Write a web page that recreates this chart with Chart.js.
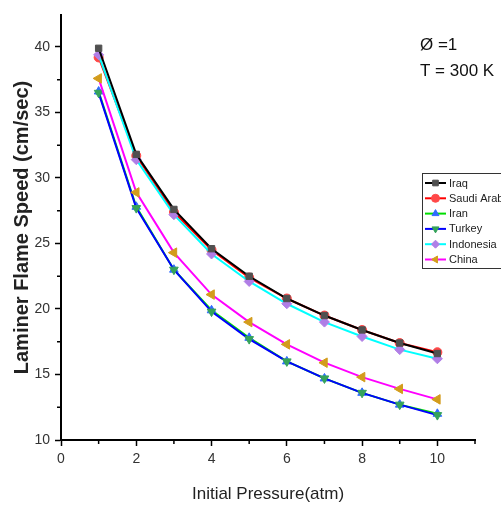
<!DOCTYPE html>
<html>
<head>
<meta charset="utf-8">
<script src="https://cdn.jsdelivr.net/npm/chart.js@4/dist/chart.umd.min.js"></script>
<style>
html, body { margin: 0; padding: 0; background: #fff; overflow: hidden; }
</style>
</head>
<body>
<canvas id="myChart" width="501" height="507"></canvas>
<script>
// initial pressure (atm)
const pressure = [1, 2, 3, 4, 5, 6, 7, 8, 9, 10];

// laminar flame speed (cm/sec)
const iraq      = [39.9, 31.8, 27.6, 24.6, 22.5, 20.8, 19.5, 18.4, 17.4, 16.6];
const saudi     = [39.2, 31.7, 27.4, 24.5, 22.4, 20.8, 19.5, 18.4, 17.4, 16.7];
const iran      = [36.6, 27.8, 23.0, 19.9, 17.8, 16.0, 14.7, 13.6, 12.7, 12.0];
const turkey    = [36.5, 27.7, 23.0, 19.8, 17.7, 16.0, 14.7, 13.6, 12.7, 11.9];
const indonesia = [39.4, 31.4, 27.2, 24.2, 22.1, 20.4, 19.0, 17.9, 16.9, 16.2];
const china     = [37.6, 28.9, 24.3, 21.1, 19.0, 17.3, 15.9, 14.8, 13.9, 13.1];

const xMinor = [1, 3, 5, 7, 9, 11];
const yMinor = [12.5, 17.5, 22.5, 27.5, 32.5, 37.5];

function pts(arr) {
  return arr.map((v, i) => ({x: pressure[i], y: v}));
}

// order: higher gets drawn first (underneath)
const series = [
  {label: 'Iraq',         data: iraq,      line: '#000000', mark: '#505050', style: 'rect',     rot: 0,   r: 4.5, order: 0},
  {label: 'Saudi Arabia', data: saudi,     line: '#ff0000', mark: '#ff4848', style: 'circle',   rot: 0,   r: 4.5, order: 2},
  {label: 'Iran',         data: iran,      line: '#00dd00', mark: '#2f6bff', style: 'triangle', rot: 0,   r: 5,   order: 5},
  {label: 'Turkey',       data: turkey,    line: '#0000ff', mark: '#35a35a', style: 'triangle', rot: 180, r: 5,   order: 4},
  {label: 'Indonesia',    data: indonesia, line: '#00ffff', mark: '#b07ee6', style: 'rectRot',  rot: 0,   r: 5,   order: 1},
  {label: 'China',        data: china,     line: '#ff00ff', mark: '#d39c1c', style: 'triangle', rot: -90, r: 5.5, order: 3}
];

const data = {
  datasets: series.map(s => ({
    label: s.label,
    data: pts(s.data),
    order: s.order,
    borderColor: s.line,
    backgroundColor: s.mark,
    pointBackgroundColor: s.mark,
    pointBorderColor: s.mark,
    pointBorderWidth: 1,
    pointStyle: s.style,
    pointRotation: s.rot,
    pointRadius: s.r,
    borderWidth: 2,
    tension: 0
  }))
};

const minorTicks = {
  id: 'minorTicks',
  afterDraw(chart) {
    const {ctx, scales: {x, y}} = chart;
    ctx.save();
    ctx.strokeStyle = '#000';
    ctx.lineWidth = 1.5;
    ctx.beginPath();
    xMinor.forEach(v => {
      const px = x.getPixelForValue(v);
      ctx.moveTo(px, y.bottom);
      ctx.lineTo(px, y.bottom + 4);
    });
    yMinor.forEach(v => {
      const py = y.getPixelForValue(v);
      ctx.moveTo(x.left - 4, py);
      ctx.lineTo(x.left, py);
    });
    ctx.stroke();
    ctx.restore();
  }
};

const boxLegend = {
  id: 'boxLegend',
  afterDraw(chart) {
    const ctx = chart.ctx;
    const left = 422, top = 173, rowH = 15.3;
    ctx.save();
    ctx.fillStyle = '#fff';
    ctx.fillRect(left, top, 100, 95);
    ctx.strokeStyle = '#333';
    ctx.lineWidth = 1;
    ctx.strokeRect(left + 0.5, top + 0.5, 100, 95);
    ctx.font = '11px "Liberation Sans", Arial, sans-serif';
    ctx.textBaseline = 'middle';
    series.forEach((s, i) => {
      const cy = top + 10 + i * rowH;
      ctx.strokeStyle = s.line;
      ctx.lineWidth = 2;
      ctx.beginPath();
      ctx.moveTo(left + 3, cy);
      ctx.lineTo(left + 24, cy);
      ctx.stroke();
      ctx.fillStyle = s.mark;
      ctx.strokeStyle = s.mark;
      ctx.lineWidth = 1;
      Chart.helpers.drawPoint(ctx, {pointStyle: s.style, rotation: s.rot, radius: 4, borderWidth: 1}, left + 13.5, cy);
      ctx.fillStyle = '#222';
      ctx.fillText(s.label, left + 27, cy + 0.5);
    });
    // conditions
    ctx.fillStyle = '#111';
    ctx.font = '17px "Liberation Sans", Arial, sans-serif';
    ctx.textBaseline = 'middle';
    ctx.fillText('Ø =1', 420, 45);
    ctx.fillText('T = 300 K', 420, 71);
    ctx.restore();
  }
};

const config = {
  type: 'line',
  data: data,
  options: {
    responsive: false,
    animation: false,
    layout: {padding: {top: 15, right: 26, left: 0, bottom: 0}},
    plugins: {
      legend: {display: false},
      tooltip: {enabled: false}
    },
    scales: {
      x: {
        type: 'linear',
        min: 0,
        max: 11,
        afterFit(scale) { scale.height = 67; },
        ticks: {stepSize: 2, includeBounds: false, color: '#333', padding: 5,
                font: {size: 14, family: '"Liberation Sans", Arial, sans-serif'}},
        grid: {drawOnChartArea: false, drawTicks: true, tickLength: 6, tickColor: '#000', tickWidth: 1.5},
        border: {display: true, color: '#000', width: 2},
        title: {display: true, text: 'Initial Pressure(atm)', color: '#222',
                padding: {top: 0, bottom: 2},
                font: {size: 17, family: '"Liberation Sans", Arial, sans-serif'}}
      },
      y: {
        min: 10,
        max: 42.44,
        afterFit(scale) { scale.width = 61; },
        ticks: {stepSize: 5, includeBounds: false, color: '#333', padding: 5,
                font: {size: 14, family: '"Liberation Sans", Arial, sans-serif'}},
        grid: {drawOnChartArea: false, drawTicks: true, tickLength: 6, tickColor: '#000', tickWidth: 1.5},
        border: {display: true, color: '#000', width: 2},
        title: {display: true, text: 'Laminer Flame Speed (cm/sec)', color: '#222',
                padding: {top: 10, bottom: 0},
                font: {size: 20, weight: 'bold', family: '"Liberation Sans", Arial, sans-serif'}}
      }
    }
  },
  plugins: [minorTicks, boxLegend]
};

const myChart = new Chart(document.getElementById('myChart'), config);
</script>
</body>
</html>
